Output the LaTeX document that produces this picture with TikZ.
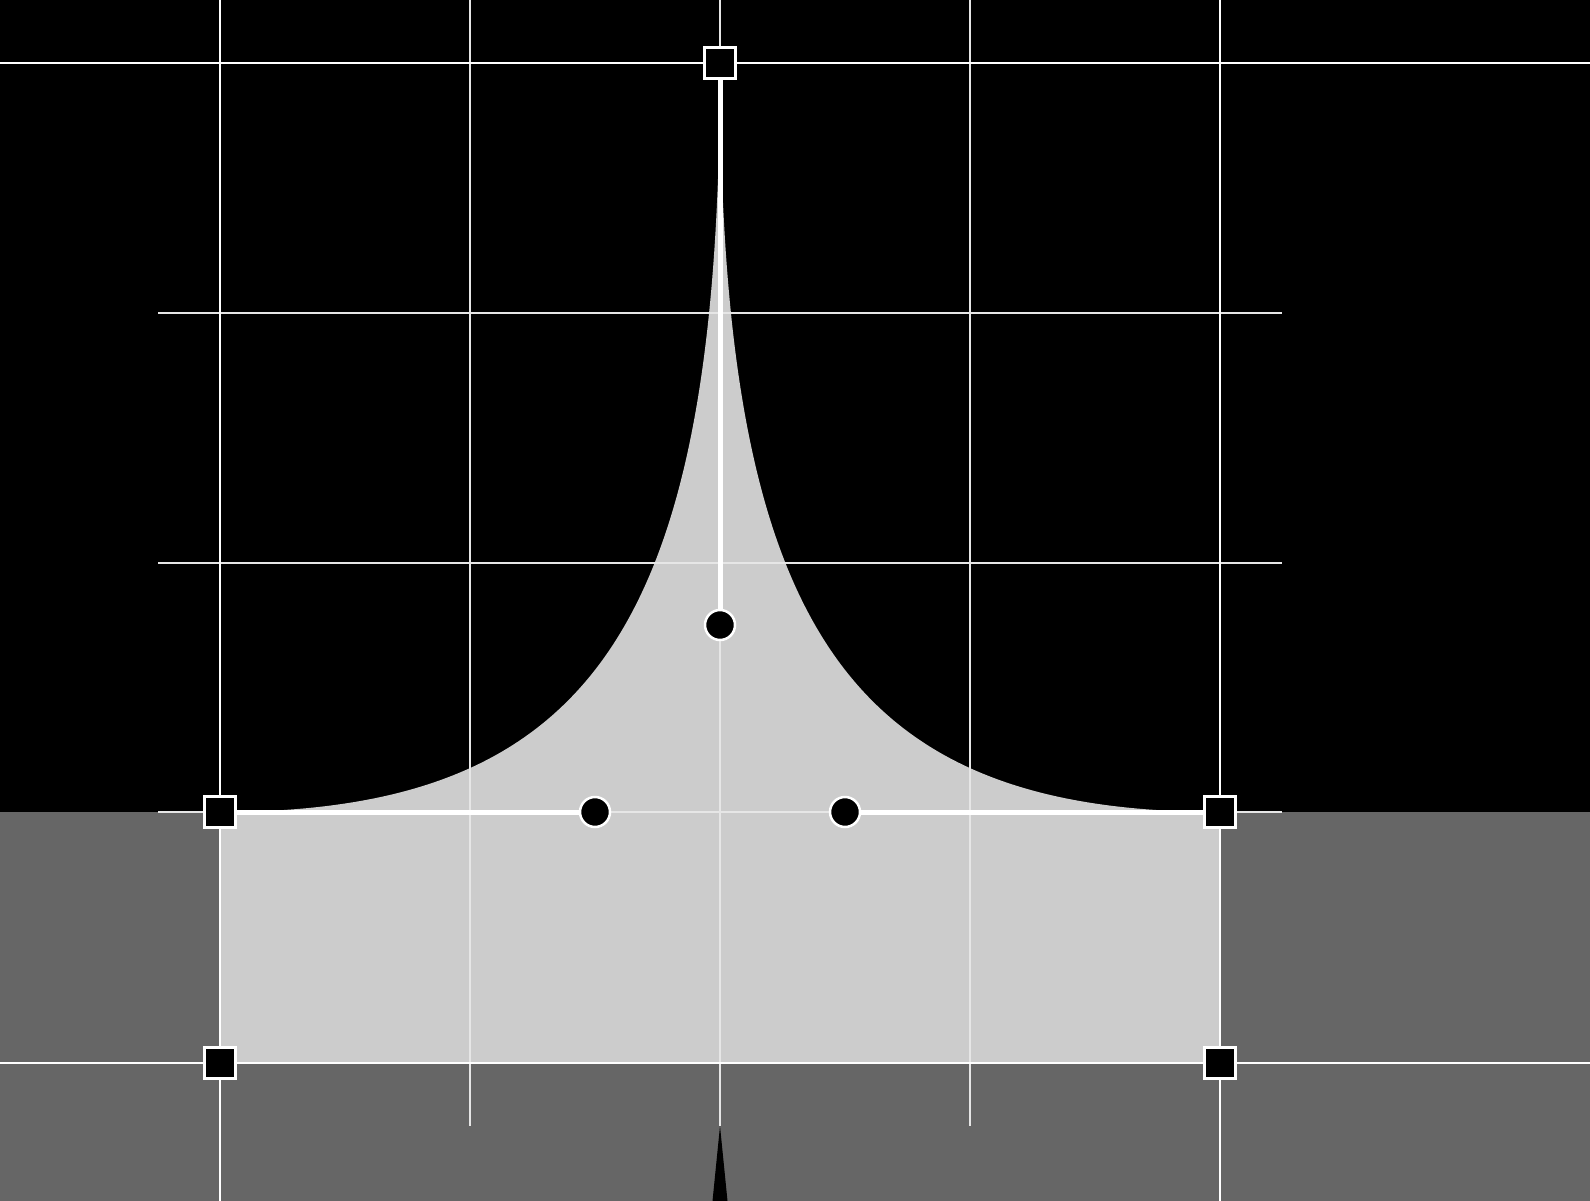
\documentclass[tikz,border=0pt]{standalone}
\usetikzlibrary{shapes.geometric}
\definecolor{darkbg}{HTML}{000000}
\definecolor{lowbg}{HTML}{666666}
\definecolor{fillgray}{HTML}{CCCCCC}
\definecolor{minorgray}{HTML}{E6E6E6}
\tikzset{
  minorline/.style={draw=minorgray, line width=1.5pt},
  majorline/.style={draw=white, line width=2.5pt},
  handleline/.style={draw=white, line width=5pt},
  anchorpt/.style={rectangle, draw=white, fill=black, line width=2.5pt, minimum size=31pt, inner sep=0pt},
  ctrlpt/.style={circle, draw=white, fill=black, line width=2.5pt, minimum size=30pt, inner sep=0pt}
}
\begin{document}
\begin{tikzpicture}[x=1pt,y=-1pt]
\useasboundingbox (0,0) rectangle (1590,1201);
% backgrounds
\fill[darkbg] (0,0) rectangle (1590,812);
\fill[lowbg] (0,812) rectangle (1590,1201);
% positions
\coordinate (top) at (720,63);
\coordinate (ml) at (220,812);
\coordinate (mr) at (1220,812);
\coordinate (bl) at (220,1063);
\coordinate (br) at (1220,1063);
\coordinate (cl) at (595,812);
\coordinate (cr) at (845,812);
\coordinate (cm) at (720,625);
% light shape
\fill[fillgray] (bl) -- (ml) .. controls (cl) and (cm) .. (top)
  .. controls (cm) and (cr) .. (mr) -- (br) -- cycle;
% bottom spike
\fill[black] (720,1126) -- (712.5,1201) -- (727.5,1201) -- cycle;
% minor grid lines
\draw[minorline] (470,0) -- (470,1126);
\draw[minorline] (720,0) -- (720,1126);
\draw[minorline] (970,0) -- (970,1126);
\draw[minorline] (158,313) -- (1282,313);
\draw[minorline] (158,563) -- (1282,563);
\draw[minorline] (158,812) -- (1282,812);
% major grid lines
\draw[majorline] (220,0) -- (220,1201);
\draw[majorline] (1220,0) -- (1220,1201);
\draw[majorline] (0,63) -- (1590,63);
\draw[majorline] (0,1063) -- (1590,1063);
% markers
\node[anchorpt] (ntop) at (top) {};
\node[anchorpt] (nml) at (ml) {};
\node[anchorpt] (nmr) at (mr) {};
\node[anchorpt] (nbl) at (bl) {};
\node[anchorpt] (nbr) at (br) {};
\node[ctrlpt] (ncl) at (cl) {};
\node[ctrlpt] (ncr) at (cr) {};
\node[ctrlpt] (ncm) at (cm) {};
% handles
\draw[handleline] (nml) -- (ncl);
\draw[handleline] (nmr) -- (ncr);
\draw[handleline] (ntop) -- (ncm);
\end{tikzpicture}
\end{document}
